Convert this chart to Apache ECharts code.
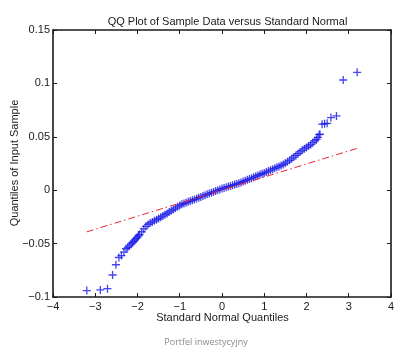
<!DOCTYPE html>
<html>
<head>
<meta charset="utf-8">
<script src="https://cdn.jsdelivr.net/npm/echarts@6/dist/echarts.min.js"></script>
<style>
  html, body { margin: 0; padding: 0; background: #fff; }
  #chart { width: 397px; height: 349px; }
</style>
</head>
<body>
<div id="chart"></div>
<script>
// Theoretical standard normal quantiles (x) and the matching sorted sample values (y)
const theoreticalQuantiles = [
  -3.20, -2.88, -2.71, -2.59, -2.51, -2.44, -2.38, -2.32, -2.27, -2.23, -2.19, -2.15,
  -2.12, -2.09, -2.06, -2.03, -2.00, -1.975,
  -1.95, -1.90, -1.85, -1.80, -1.75, -1.70, -1.65, -1.60, -1.55, -1.50, -1.45, -1.40,
  -1.35, -1.30, -1.25, -1.20, -1.15, -1.10, -1.05, -1.00, -0.95, -0.90, -0.85, -0.80,
  -0.75, -0.70, -0.65, -0.60, -0.55, -0.50, -0.45, -0.40, -0.35, -0.30, -0.25, -0.20,
  -0.15, -0.10, -0.05, 0.00, 0.05, 0.10, 0.15, 0.20, 0.25, 0.30, 0.35, 0.40,
  0.45, 0.50, 0.55, 0.60, 0.65, 0.70, 0.75, 0.80, 0.85, 0.90, 0.95, 1.00,
  1.05, 1.10, 1.15, 1.20, 1.25, 1.30, 1.35, 1.40, 1.45, 1.50, 1.55, 1.60,
  1.65, 1.70, 1.75, 1.80, 1.85, 1.90, 1.95, 2.00, 2.05, 2.10, 2.15, 2.20,
  2.24, 2.27, 2.30, 2.32, 2.37, 2.43, 2.49, 2.58, 2.71, 2.87, 3.20
];
const sampleQuantiles = [
  -0.0940, -0.0934, -0.0922, -0.0794, -0.0698, -0.0630, -0.0612, -0.0580, -0.0548, -0.0535, -0.0521, -0.0505,
  -0.0492, -0.0478, -0.0465, -0.0452, -0.0440, -0.0428,
  -0.0415, -0.0389, -0.0363, -0.0338, -0.0320, -0.0307, -0.0297, -0.0287, -0.0276, -0.0265, -0.0253, -0.0242,
  -0.0230, -0.0217, -0.0204, -0.0192, -0.0180, -0.0168, -0.0156, -0.0144, -0.0132, -0.0125, -0.0117, -0.0109,
  -0.0102, -0.0094, -0.0086, -0.0078, -0.0070, -0.0063, -0.0055, -0.0047, -0.0039, -0.0032, -0.0024, -0.0016,
  -0.0008, -0.0001, 0.0007, 0.0015, 0.0021, 0.0028, 0.0034, 0.0040, 0.0047, 0.0053, 0.0059, 0.0066,
  0.0073, 0.0081, 0.0089, 0.0097, 0.0105, 0.0113, 0.0121, 0.0130, 0.0138, 0.0146, 0.0154, 0.0162,
  0.0170, 0.0179, 0.0188, 0.0197, 0.0205, 0.0214, 0.0223, 0.0232, 0.0241, 0.0253, 0.0266, 0.0280,
  0.0294, 0.0310, 0.0326, 0.0342, 0.0358, 0.0373, 0.0387, 0.0400, 0.0414, 0.0428, 0.0445, 0.0463,
  0.0475, 0.0495, 0.0520, 0.0525, 0.0618, 0.0622, 0.0626, 0.0680, 0.0695, 0.1032, 0.1104
];

// Reference line through the quartiles, spanning the data range
const refLineX = [-3.20, 3.20];
const refLineY = [-0.0390, 0.0392];

// Axis ticks
const xTicks = [-4, -3, -2, -1, 0, 1, 2, 3, 4];
const yTicks = [-0.1, -0.05, 0, 0.05, 0.1, 0.15];
const xTickLabels = ['\u22124', '\u22123', '\u22122', '\u22121', '0', '1', '2', '3', '4'];
const yTickLabels = ['\u22120.1', '\u22120.05', '0', '0.05', '0.1', '0.15'];

const titleText = 'QQ Plot of Sample Data versus Standard Normal';
const xName = 'Standard Normal Quantiles';
const yName = 'Quantiles of Input Sample';
const footer = 'Portfel inwestycyjny';

const FONT = 'Liberation Sans, Arial, Helvetica, sans-serif';
const INK = '#1a1a1a';

function labelFor(ticks, labels) {
  return function (v) {
    for (let i = 0; i < ticks.length; i++) {
      if (Math.abs(ticks[i] - v) < 1e-9) return labels[i];
    }
    return '';
  };
}

const points = theoreticalQuantiles.map((q, i) => [q, sampleQuantiles[i]]);
const refLine = refLineX.map((x, i) => [x, refLineY[i]]);

const axisLineStyle = { show: true, onZero: false, lineStyle: { color: INK, width: 1.6 } };
const tickStyle = { show: true, inside: true, length: 4, lineStyle: { color: INK, width: 1 } };
const labelStyle = { color: INK, fontFamily: FONT, fontSize: 11 };

const chart = echarts.init(document.getElementById('chart'), null, { renderer: 'canvas' });
chart.setOption({
  animation: false,
  backgroundColor: '#ffffff',
  title: {
    text: titleText,
    left: 222.5,
    textAlign: 'center',
    top: 11,
    textStyle: { color: INK, fontFamily: FONT, fontSize: 11, fontWeight: 'normal' }
  },
  grid: { left: 53, right: 5, top: 30, bottom: 52, containLabel: false },
  xAxis: [
    {
      type: 'value', min: -4, max: 4, interval: 1, position: 'bottom',
      axisLine: axisLineStyle, axisTick: tickStyle, splitLine: { show: false },
      axisLabel: Object.assign({ margin: 4, formatter: labelFor(xTicks, xTickLabels) }, labelStyle)
    },
    {
      type: 'value', min: -4, max: 4, interval: 1, position: 'top',
      axisLine: axisLineStyle, axisTick: tickStyle, splitLine: { show: false },
      axisLabel: { show: false }
    }
  ],
  yAxis: [
    {
      type: 'value', min: -0.1, max: 0.15, interval: 0.05, position: 'left',
      axisLine: axisLineStyle, axisTick: tickStyle, splitLine: { show: false },
      axisLabel: Object.assign({ margin: 3, formatter: labelFor(yTicks, yTickLabels) }, labelStyle)
    },
    {
      type: 'value', min: -0.1, max: 0.15, interval: 0.05, position: 'right',
      axisLine: axisLineStyle, axisTick: tickStyle, splitLine: { show: false },
      axisLabel: { show: false }
    }
  ],
  series: [
    {
      name: 'sample',
      type: 'scatter',
      data: points,
      symbol: 'path://M5,0L5,10M0,5L10,5',
      symbolSize: 8,
      itemStyle: { color: 'rgba(0,0,0,0)', borderColor: '#1616e8', borderWidth: 1.3 },
      z: 2
    },
    {
      name: 'reference',
      type: 'line',
      data: refLine,
      symbol: 'none',
      lineStyle: { color: '#e8262a', width: 1, type: [7, 3, 1.5, 3] },
      z: 3
    }
  ],
  graphic: [
    {
      type: 'text', x: 222.5, y: 318,
      style: { text: xName, fill: INK, font: '11px ' + FONT, align: 'center', verticalAlign: 'middle' }
    },
    {
      type: 'text', x: 15, y: 163, rotation: Math.PI / 2,
      style: { text: yName, fill: INK, font: '11px ' + FONT, align: 'center', verticalAlign: 'middle' }
    },
    {
      type: 'text', x: 206, y: 342,
      style: { text: footer, fill: '#8a8a8a', font: '9px "Open Sans", Lato, sans-serif', align: 'center', verticalAlign: 'middle' }
    }
  ]
});
</script>
</body>
</html>
